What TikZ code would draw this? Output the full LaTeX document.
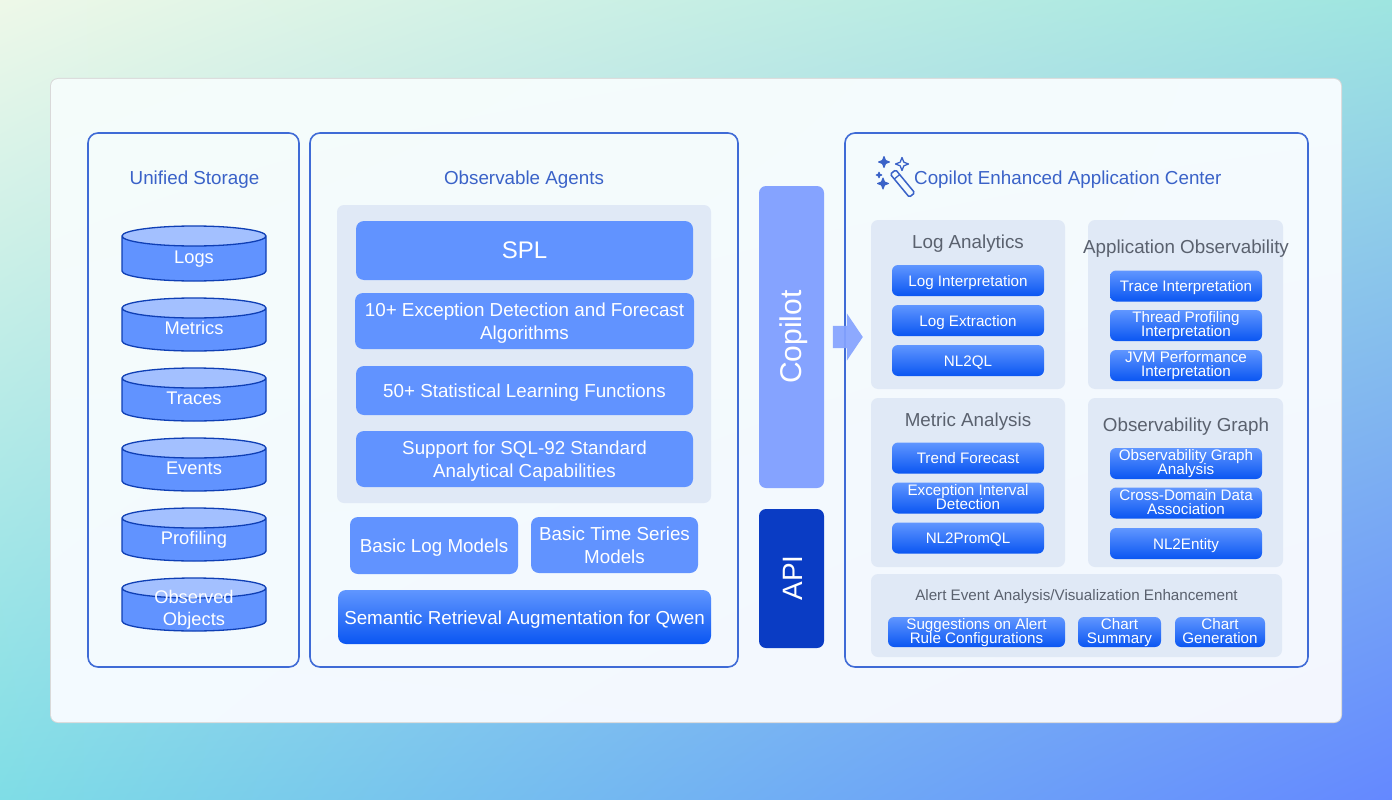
\documentclass[tikz,border=0pt]{standalone}
\usepackage{fontspec}
\setmainfont{Liberation Sans}
\usetikzlibrary{shapes.geometric, shapes.arrows, shadings}
\definecolor{panelline}{HTML}{3F6BD6}
\definecolor{headblue}{HTML}{3A62C8}
\definecolor{headgrey}{HTML}{5A616E}
\definecolor{boxblue}{HTML}{6193FF}
\definecolor{greyarea}{HTML}{E0E9F6}
\definecolor{copilotblue}{HTML}{85A3FF}
\definecolor{apiblue}{HTML}{0A3CC4}
\definecolor{cyltop}{HTML}{A3C0FF}
\definecolor{cylline}{HTML}{0F3FB5}
\definecolor{glosstop}{HTML}{6096FF}
\definecolor{glossmid}{HTML}{4F8AFF}
\definecolor{glossbottom}{HTML}{0A56F2}
\newcommand{\tightlines}{\lineskiplimit=-10pt\relax}
\tikzset{
  panel/.style={draw=panelline, line width=1.6pt, fill=none, rounded corners=10pt, anchor=north west, outer sep=0pt},
  area/.style={fill=greyarea, rounded corners=7pt, anchor=north west, outer sep=0pt},
  flatbox/.style={fill=boxblue, text=white, rounded corners=8pt, align=center, inner sep=0pt, outer sep=0pt, font=\fontsize{18.8}{23}\selectfont\tightlines, execute at begin node={\rule[-5pt]{0pt}{24pt}}},
  flatpair/.style={text height=37pt, text depth=0pt, execute at begin node={}},
  glossbox/.style={top color=glosstop, middle color=glossmid, bottom color=glossbottom, text=white, rounded corners=6pt, align=center, inner sep=0pt, outer sep=0pt, minimum width=152pt, minimum height=31pt, font=\fontsize{15.2}{14}\selectfont\tightlines, execute at begin node={\rule[-4pt]{0pt}{19pt}}},
  twolines/.style={text height=22pt, text depth=0pt, execute at begin node={}},
  storage/.style={shape=cylinder, shape border rotate=90, aspect=0.5, anchor=shape center, draw=cylline, line width=1.3pt, cylinder uses custom fill, cylinder body fill=boxblue, cylinder end fill=cyltop, inner sep=0pt, outer sep=0pt, text width=40pt, text height=8pt, text depth=0pt, minimum width=144pt, minimum height=53pt},
  storagetext/.style={text=white, align=center, inner sep=0pt, yshift=-3.5pt, text height=13.1pt, text depth=0pt, font=\fontsize{18.3}{22}\selectfont\tightlines},
  heading/.style={text=headblue, font=\fontsize{18.8}{22}\selectfont, inner sep=0pt, yshift=-2pt},
  subhead/.style={text=headgrey, font=\fontsize{18.8}{22}\selectfont, inner sep=0pt, yshift=-2pt},
  sparkfill/.style={fill=headblue, draw=headblue, line width=1pt, line join=round},
  sparkline/.style={draw=headblue, line width=1.3pt, line join=round}
}
\newcommand{\sparkle}[4]{\path[#4] (#1-#3,#2) -- (#1-#3*.28,#2-#3*.28) -- (#1,#2-#3) -- (#1+#3*.28,#2-#3*.28) -- (#1+#3,#2) -- (#1+#3*.28,#2+#3*.28) -- (#1,#2+#3) -- (#1-#3*.28,#2+#3*.28) -- cycle;}
\begin{document}
\begin{tikzpicture}[x=1pt, y=-1pt]
\useasboundingbox (0,0) rectangle (1392,800);
% page background
\shade[upper left={rgb,255:red,238;green,248;blue,232}, upper right={rgb,255:red,158;green,229;blue,224}, lower left={rgb,255:red,127;green,221;blue,230}, lower right={rgb,255:red,100;green,136;blue,255}] (0,0) rectangle (1392,800);
\fill[black!15, rounded corners=8pt] (50,78) rectangle (1342,723);
\shade[upper left={rgb,255:red,244;green,252;blue,250}, upper right={rgb,255:red,244;green,251;blue,254}, lower left={rgb,255:red,243;green,250;blue,255}, lower right={rgb,255:red,243;green,246;blue,254}, rounded corners=7pt] (51,79) rectangle (1341,722);

% outer panels
\node[panel, minimum width=211pt, minimum height=534pt] (storagepanel) at (88,133) {};
\node[panel, minimum width=428pt, minimum height=534pt] (agentpanel) at (310,133) {};
\node[panel, minimum width=463pt, minimum height=534pt] (centerpanel) at (845,133) {};

% unified storage
\node[heading] (storagehead) at (194.5,178) {Unified Storage};
\node[storage, minimum height=55pt] (logs) at (194,253.5) {\mbox{}};
\node[storage] (metrics) at (194,324.5) {\mbox{}};
\node[storage] (traces) at (194,394.5) {\mbox{}};
\node[storage] (events) at (194,464.5) {\mbox{}};
\node[storage] (profiling) at (194,534.5) {\mbox{}};
\node[storage] (observed) at (194,604.5) {\mbox{}};
\node[storagetext] (logstext) at (logs.shape center) {Logs};
\node[storagetext] (metricstext) at (metrics.shape center) {Metrics};
\node[storagetext] (tracestext) at (traces.shape center) {Traces};
\node[storagetext] (eventstext) at (events.shape center) {Events};
\node[storagetext] (profilingtext) at (profiling.shape center) {Profiling};
\node[storagetext, text height=35.1pt] (observedtext) at (observed.shape center) {Observed\\Objects};

% observable agents
\node[heading] (agenthead) at (524,178) {Observable Agents};
\node[area, minimum width=374pt, minimum height=298pt] (agentarea) at (337,205) {};
\node[flatbox, minimum width=337pt, minimum height=59pt, font=\fontsize{24}{28}\selectfont, execute at begin node={\rule[-5pt]{0pt}{26pt}}] (spl) at (524.5,250.5) {SPL};
\node[flatbox, flatpair, minimum width=339pt, minimum height=56pt] (forecast) at (524.5,321) {10+ Exception Detection and Forecast\\Algorithms};
\node[flatbox, minimum width=337pt, minimum height=49pt] (statfunc) at (524.5,390.5) {50+ Statistical Learning Functions};
\node[flatbox, flatpair, minimum width=337pt, minimum height=56pt] (sqlbox) at (524.5,459) {Support for SQL-92 Standard\\Analytical Capabilities};
\node[flatbox, minimum width=168pt, minimum height=57pt] (logmodels) at (434,545.5) {Basic Log Models};
\node[flatbox, flatpair, minimum width=167pt, minimum height=56pt] (tsmodels) at (614.5,545) {Basic Time Series\\Models};
\node[glossbox, minimum width=373pt, minimum height=54pt, rounded corners=8pt, font=\fontsize{18.8}{22}\selectfont, execute at begin node={\rule[-5pt]{0pt}{24pt}}] (qwen) at (524.5,617) {Semantic Retrieval Augmentation for Qwen};

% copilot and api
\node[fill=copilotblue, rounded corners=7pt, minimum width=65pt, minimum height=302pt, inner sep=0pt, outer sep=0pt] (copilot) at (791.5,337) {};
\node[text=white, rotate=90, font=\fontsize{30}{34}\selectfont] (copilottext) at (794,337) {Copilot};
\node[fill=apiblue, rounded corners=7pt, minimum width=65pt, minimum height=139pt, inner sep=0pt, outer sep=0pt] (api) at (791.5,578.5) {};
\node[text=white, rotate=90, font=\fontsize{28}{32}\selectfont] (apitext) at (793,578) {API};
\node[shape=single arrow, fill=copilotblue, opacity=.92, inner xsep=0pt, inner ysep=11pt, outer sep=0pt, minimum width=47pt, minimum height=30pt, single arrow head extend=12.5pt, single arrow tip angle=112, single arrow head indent=0pt] (toapps) at (844,337) {};

% enhanced application center
\node[heading, anchor=west] (centerhead) at (914,178) {Copilot Enhanced Application Center};
\draw[headblue, line width=1.5pt, rounded corners=1.5pt] (895.7,169.8) -- (914.7,192.8) -- (909.3,197.2) -- (890.3,174.2) -- cycle;
\draw[headblue, line width=1.3pt] (899.7,174.6) -- (894.3,179);
\sparkle{884}{162}{5.5}{sparkfill}
\sparkle{902}{164}{6.5}{sparkline}
\sparkle{883}{183.5}{5.5}{sparkfill}
\sparkle{879}{175}{2.8}{sparkfill}

\node[area, minimum width=194pt, minimum height=169pt] (logarea) at (871,220) {};
\node[area, minimum width=195pt, minimum height=169pt] (apparea) at (1088,220) {};
\node[area, minimum width=194pt, minimum height=169pt] (metricarea) at (871,398) {};
\node[area, minimum width=195pt, minimum height=169pt] (grapharea) at (1088,398) {};
\node[area, minimum width=411pt, minimum height=83pt] (alertarea) at (871,574) {};

\node[subhead] (loghead) at (968,242) {Log Analytics};
\node[glossbox] (loginterp) at (968,280.5) {Log Interpretation};
\node[glossbox] (logextract) at (968,320.5) {Log Extraction};
\node[glossbox] (nlql) at (968,360.5) {NL2QL};

\node[subhead] (apphead) at (1186,247) {Application Observability};
\node[glossbox] (traceinterp) at (1186,286) {Trace Interpretation};
\node[glossbox, twolines] (threadprof) at (1186,325.5) {Thread Profiling\\Interpretation};
\node[glossbox, twolines] (jvmperf) at (1186,365.5) {JVM Performance\\Interpretation};

\node[subhead] (metrichead) at (968,420) {Metric Analysis};
\node[glossbox] (trend) at (968,458) {Trend Forecast};
\node[glossbox, twolines] (interval) at (968,498) {Exception Interval\\Detection};
\node[glossbox] (promql) at (968,538) {NL2PromQL};

\node[subhead] (graphhead) at (1186,425) {Observability Graph};
\node[glossbox, twolines] (graphana) at (1186,463.5) {Observability Graph\\Analysis};
\node[glossbox, twolines] (crossdomain) at (1186,503) {Cross-Domain Data\\Association};
\node[glossbox] (nlentity) at (1186,543.5) {NL2Entity};

\node[subhead, font=\fontsize{15.2}{18}\selectfont] (alerthead) at (1076.5,595) {Alert Event Analysis/Visualization Enhancement};
\node[glossbox, twolines, minimum width=177pt, minimum height=30pt] (suggest) at (976.5,632) {Suggestions on Alert\\Rule Configurations};
\node[glossbox, twolines, minimum width=83pt, minimum height=30pt] (summary) at (1119.5,632) {Chart\\Summary};
\node[glossbox, twolines, minimum width=90pt, minimum height=30pt] (generate) at (1220,632) {Chart\\Generation};
\end{tikzpicture}
\end{document}
